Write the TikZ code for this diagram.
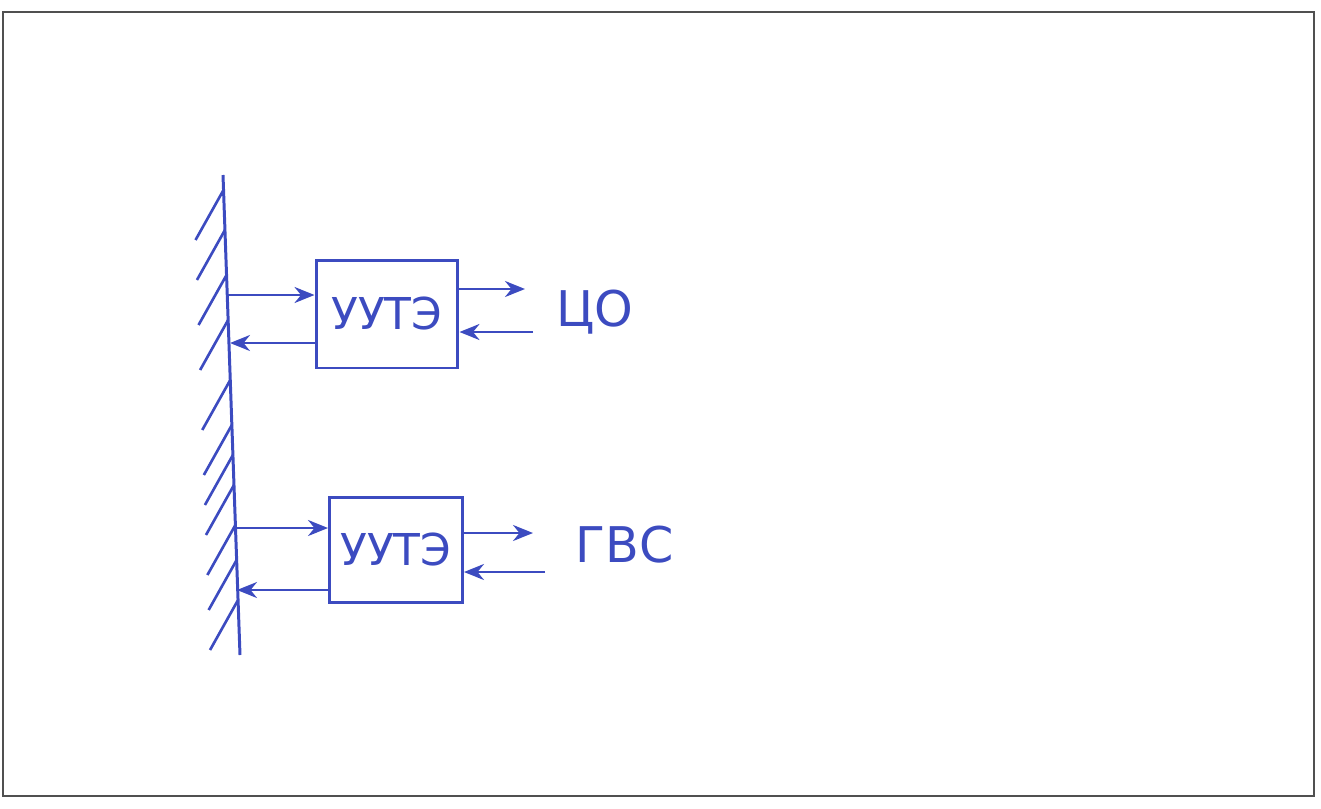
\documentclass[tikz,border=0pt]{standalone}
\usepackage{fontspec}
\setmainfont{DejaVu Sans}
\usetikzlibrary{arrows.meta,positioning,calc}
\definecolor{pen}{HTML}{3C4BC0}
\definecolor{framegray}{HTML}{505050}
\tikzset{
  >={Stealth[length=4mm,width=3.2mm]},
  % стена
  wall/.style={draw=pen,line width=1.7pt},
  hatch/.style={draw=pen,line width=1.5pt},
  % узлы учёта
  unit/.style={draw=pen,line width=1.7pt,inner sep=0pt,minimum width=2.84cm,
               minimum height=2.16cm,text=pen,font=\fontsize{25}{25}\selectfont},
  flow/.style={->,draw=pen,line width=1.6pt},
  sink/.style={text=pen,inner sep=0pt,font=\fontsize{28}{28}\selectfont},
}
\begin{document}
\begin{tikzpicture}[x=0.02cm,y=-0.02cm]
  \useasboundingbox (0,0) rectangle (1321,808);
  \draw[draw=framegray,line width=0.9pt] (3,12) rectangle (1314,796);
  % стена со штриховкой
  \coordinate (wtop) at (223,175);
  \coordinate (wbot) at (240,655);
  \draw[wall] (wtop) -- (wbot);
  \foreach \y [evaluate=\y as \t using (\y-175)/480] in {190,230,275,320,380,425,455,485,525,560,600}
    \draw[hatch] ($(wtop)!\t!(wbot)$) -- ++(-28,50);
  % ЦО
  \node[unit] (u1) at (387,314) {УУТЭ};
  \coordinate (a1) at (228,295);
  \coordinate (b1) at (230,343);
  \coordinate (c1) at (525,289);
  \coordinate (d1) at (533,332);
  \draw[flow] (a1) -- (a1 -| u1.west);
  \draw[flow] (b1 -| u1.west) -- (b1);
  \draw[flow] (c1 -| u1.east) -- (c1);
  \draw[flow] (d1) -- (d1 -| u1.east);
  \node[sink] (co) at (595,312) {ЦО};
  % ГВС
  \node[unit,minimum width=2.66cm,minimum height=2.1cm] (u2) at (396,550) {УУТЭ};
  \coordinate (a2) at (236,528);
  \coordinate (b2) at (237,590);
  \coordinate (c2) at (533,533);
  \coordinate (d2) at (545,572);
  \draw[flow] (a2) -- (a2 -| u2.west);
  \draw[flow] (b2 -| u2.west) -- (b2);
  \draw[flow] (c2 -| u2.east) -- (c2);
  \draw[flow] (d2) -- (d2 -| u2.east);
  \node[sink] (gvs) at (625,545) {ГВС};
\end{tikzpicture}
\end{document}
